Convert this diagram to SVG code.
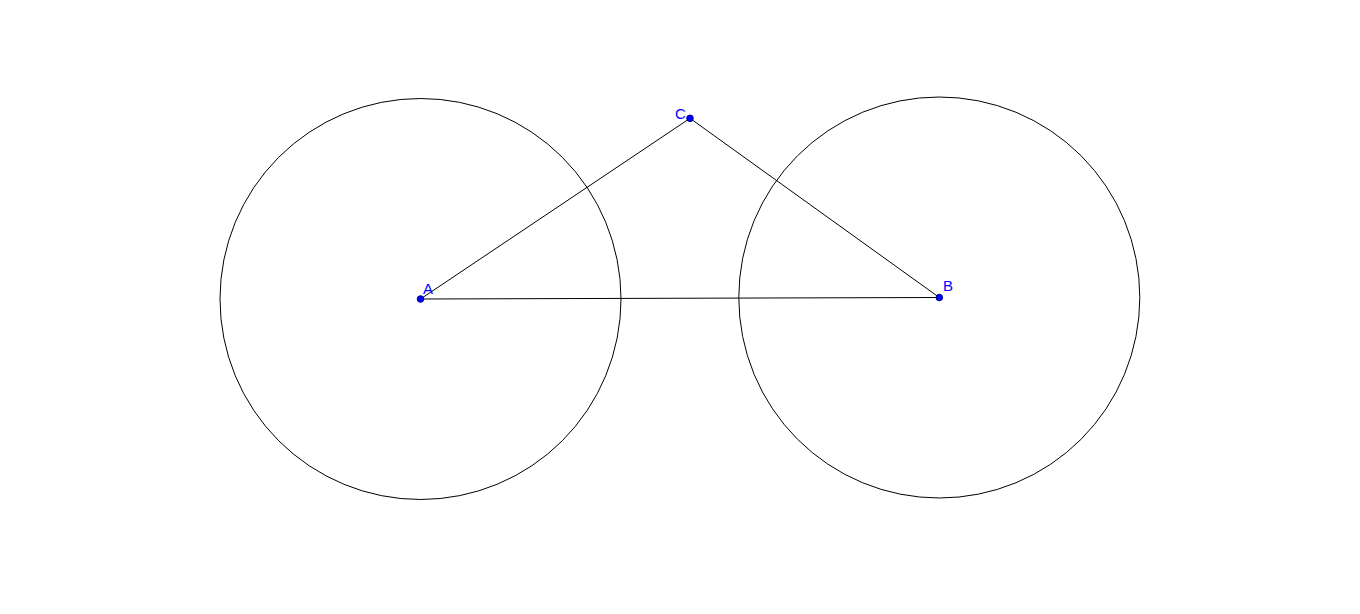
<svg xmlns="http://www.w3.org/2000/svg" width="1360" height="614" viewBox="0 0 1360 614">
<style>
.c{fill:none;stroke:#000;stroke-width:1}
.s{stroke:#000;stroke-width:1}
.p{fill:#0000ff;stroke:#00008b;stroke-width:1}
.l{font-family:"Liberation Sans",Arial,sans-serif;font-size:15px;fill:#0000ff}
</style>
<rect width="1360" height="614" fill="#fff"/>
<g id="circleA"><circle class="c" cx="420.5" cy="299" r="200.5"/></g>
<g id="circleB"><circle class="c" cx="939.3" cy="297.5" r="200.5"/></g>
<g id="connectors">
<line class="s" x1="420.5" y1="299" x2="939.3" y2="297.5"/>
<line class="s" x1="420.5" y1="299" x2="690" y2="118.3"/>
<line class="s" x1="690" y1="118.3" x2="939.3" y2="297.5"/>
</g>
<g id="A"><circle class="p" cx="420.5" cy="299" r="3.3"/><text class="l" x="423" y="294">A</text></g>
<g id="B"><circle class="p" cx="939.3" cy="297.5" r="3.3"/><text class="l" x="943" y="291">B</text></g>
<g id="C"><circle class="p" cx="690" cy="118.3" r="3.3"/><text class="l" x="675" y="119">C</text></g>
</svg>
